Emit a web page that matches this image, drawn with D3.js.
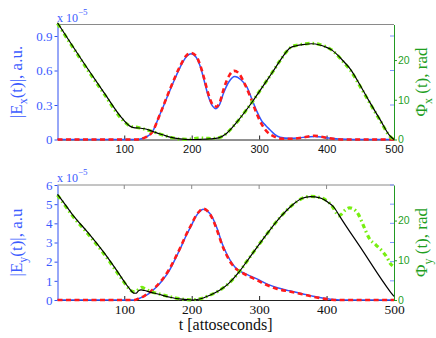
<!DOCTYPE html>
<html><head><meta charset="utf-8">
<script src="https://cdn.jsdelivr.net/npm/d3@7"></script>
<style>body{margin:0;background:#fff}svg{display:block}</style>
</head><body>
<svg id="c" width="436" height="338"></svg>
<script>
// ---------- data ----------
const tTicks = [100, 200, 300, 400, 500];
const exTicks = [0, 0.3, 0.6, 0.9];
const eyTicks = [0, 1, 2, 3, 4, 5, 6];
const phiTicks = [0, 10, 20];

// |E_x(t)| (x 1e-5 a.u.)
const exBlue = [[1,0],[118,0],[124,0.005],[132,0.02],[141,0.06],[153,0.22],[168,0.43],[183,0.63],[192,0.72],[199,0.745],[206,0.72],[213,0.63],[219,0.5],[225,0.37],[231,0.29],[236,0.268],[241,0.3],[247,0.4],[255,0.5],[264,0.548],[273,0.52],[282,0.455],[290,0.34],[297,0.24],[304,0.16],[310,0.12],[316,0.085],[323,0.045],[331,0.02],[345,0.01],[360,0.015],[370,0.022],[382,0.026],[394,0.02],[405,0.01],[420,0.004],[440,0.001],[500,0]];
const exRed = [[1,0],[118,0],[124,0.005],[132,0.02],[141,0.06],[153,0.22],[168,0.44],[183,0.64],[192,0.73],[199,0.752],[206,0.73],[213,0.64],[219,0.52],[225,0.39],[231,0.305],[237,0.285],[242,0.33],[248,0.45],[256,0.56],[263,0.597],[270,0.575],[278,0.49],[287,0.37],[296,0.23],[305,0.12],[313,0.06],[321,0.03],[331,0.008],[350,0.006],[365,0.018],[382,0.032],[396,0.02],[410,0.006],[425,0],[500,0]];
// Phi_x(t), rad
const phixBlack = [[1,29.4],[45,18.0],[70,11.8],[95,5.7],[104,4.0],[109,3.3],[114,3.0],[122,2.9],[130,2.7],[138,2.3],[146,1.8],[157,1.2],[168,0.6],[183,0.15],[198,0],[213,0.05],[227,0.15],[240,0.4],[250,1.3],[260,3.0],[270,5.0],[280,7.2],[290,9.5],[300,12.0],[310,14.5],[320,17.0],[330,19.6],[340,22.0],[346,23.1],[355,23.6],[365,23.9],[378,24.1],[390,23.8],[400,23.2],[408,22.5],[415,21.5],[425,19.7],[435,17.8],[450,13.6],[464,9.4],[480,4.8],[494,0.9],[500,0]];
const phixGreen = [[1,29.2],[45,17.7],[70,11.5],[95,5.4],[104,3.9],[110,3.3],[118,3.1],[126,2.8],[134,2.4],[142,2.0],[150,1.5],[160,1.0],[170,0.5],[183,0.1],[195,0.05],[205,0.25],[213,0.35],[222,0.3],[230,0.25],[240,0.45],[250,1.3],[260,3.0],[270,5.0],[280,7.2],[290,9.5],[300,12.0],[310,14.5],[320,17.0],[330,19.6],[340,22.0],[347,23.2],[355,23.7],[365,24.0],[378,24.2],[390,23.9],[400,23.3],[408,22.5],[415,21.4],[425,19.5],[435,17.5],[450,13.3],[464,9.2],[480,4.6],[494,0.8],[500,0]];

// |E_y(t)| (x 1e-5 a.u.)
const eyBlue = [[1,0],[115,0],[122,0.08],[130,0.2],[137,0.35],[147,0.65],[157,1.04],[167,1.55],[176,2.17],[184,2.75],[191,3.3],[199,3.85],[206,4.35],[212,4.62],[217,4.73],[223,4.65],[230,4.35],[238,3.7],[245,2.96],[252,2.4],[260,1.91],[266,1.65],[273,1.48],[284,1.3],[295,1.13],[314,0.8],[327,0.64],[345,0.48],[364,0.33],[380,0.2],[398,0.08],[410,0.02],[420,0],[500,0]];
const eyRed = [[1,0],[115,0],[122,0.09],[130,0.22],[137,0.38],[147,0.7],[157,1.1],[167,1.62],[176,2.22],[184,2.8],[191,3.35],[199,3.9],[206,4.38],[212,4.65],[217,4.76],[223,4.66],[230,4.3],[238,3.6],[245,2.88],[252,2.32],[260,1.85],[266,1.62],[273,1.46],[284,1.25],[295,1.07],[314,0.74],[327,0.58],[345,0.44],[364,0.3],[380,0.17],[398,0.06],[408,0.01],[415,0],[500,0]];
// Phi_y(t), rad
const phiyBlack = [[1,26.6],[10,24.6],[25,21.1],[45,17.2],[70,11.9],[95,5.9],[103,3.9],[108,2.8],[112,2.0],[115,1.7],[118,1.75],[121,2.3],[125,2.55],[130,2.4],[138,2.0],[150,1.5],[168,0.7],[185,0.2],[200,0],[212,0.25],[227,1.2],[242,2.5],[255,4.2],[270,7.0],[285,10.5],[300,14.0],[315,17.4],[330,20.6],[341,22.6],[352,24.3],[364,25.6],[376,26.0],[390,25.7],[403,24.5],[410,23.5],[414,22.6],[418,21.5],[452,12.8],[494,2.2],[500,0.9]];
const phiyGreen = [[1,26.4],[10,24.3],[25,20.8],[45,16.9],[70,11.6],[95,5.6],[103,3.7],[108,2.7],[113,2.1],[118,2.2],[122,2.8],[126,3.2],[131,2.8],[138,2.2],[150,1.6],[168,0.8],[185,0.25],[200,0.05],[212,0.3],[227,1.2],[242,2.5],[255,4.2],[270,7.0],[285,10.5],[300,14.0],[315,17.4],[330,20.6],[341,22.6],[352,24.3],[364,25.6],[376,26.1],[390,25.8],[403,24.6],[410,23.2],[414,22.0],[418,21.2],[422,21.6],[428,22.7],[434,23.2],[440,22.9],[447,21.6],[455,18.6],[463,15.6],[473,13.9],[483,12.2],[490,10.6],[494,9.3],[498,8.6]];

// ---------- styling ----------
const BLUE_TXT = "#3b5bff", BLUE_AX = "#3050f0", BLUE_LINE = "#2f55ff";
const GREEN_TXT = "#1f9f1f", GREEN_AX = "#229922", GREEN_LINE = "#77ee11";
const RED = "#ff1a1a";
const SERIF = "'Liberation Serif','Times New Roman',serif";
const SANS = "'Liberation Sans',Arial,sans-serif";

const svg = d3.select("#c");
const x = d3.scaleLinear().domain([1, 500]).range([57.5, 394]);

const panels = [
  {top: 24.5, bottom: 139.5, eMax: 1.0, eTicks: exTicks, eFmt: d => d === 0 ? "0" : d3.format(".1f")(d),
   blue: exBlue, red: exRed, black: phixBlack, green: phixGreen, sub: "x", eLabelEnd: ", a.u.",
   xFont: SANS, xSize: 11, xLabY: 153, topTicks: false},
  {top: 185, bottom: 300, eMax: 6, eTicks: eyTicks, eFmt: d3.format("d"),
   blue: eyBlue, red: eyRed, black: phiyBlack, green: phiyGreen, sub: "y", eLabelEnd: ", a.u",
   xFont: SERIF, xSize: 13.5, xLabY: 314, topTicks: true}
];

panels.forEach(p => {
  const yE = d3.scaleLinear().domain([0, p.eMax]).range([p.bottom, p.top]);
  const yP = d3.scaleLinear().domain([0, 28.95]).range([p.bottom, p.top]);
  const g = svg.append("g");
  const [x0, x1] = x.range();

  // frame: top (gray)
  g.append("line").attr("x1", x0).attr("x2", x1).attr("y1", p.top).attr("y2", p.top)
    .attr("stroke", "#8a8a8a").attr("stroke-width", 1);
  if (p.topTicks) {
    tTicks.slice(0, 4).forEach(t => g.append("line").attr("x1", x(t)).attr("x2", x(t))
      .attr("y1", p.top).attr("y2", p.top + 4).attr("stroke", "#8a8a8a"));
  }

  // bottom x axis
  const xa = g.append("g").attr("transform", `translate(0,${p.bottom})`)
    .call(d3.axisBottom(x).tickValues(tTicks).tickSizeInner(-4).tickSizeOuter(0).tickFormat(d3.format("d")));
  xa.select(".domain").attr("stroke", "#222");
  xa.selectAll(".tick line").attr("stroke", "#222");
  xa.selectAll(".tick text").attr("y", null).attr("dy", null)
    .attr("transform", `translate(0,${p.xLabY - p.bottom})`)
    .attr("font-family", p.xFont).attr("font-size", p.xSize).attr("fill", "#111");

  // left axis (blue)
  const la = g.append("g").attr("transform", `translate(${x0},0)`)
    .call(d3.axisLeft(yE).tickValues(p.eTicks).tickSizeInner(3).tickSizeOuter(0).tickPadding(2).tickFormat(p.eFmt));
  la.select(".domain").attr("stroke", BLUE_AX);
  la.selectAll(".tick line").attr("stroke", BLUE_AX);
  la.selectAll(".tick text").attr("font-family", SERIF).attr("font-size", 13).attr("fill", BLUE_TXT);
  // mirrored blue ticks on right edge
  p.eTicks.filter(v => v > 0).forEach(v => g.append("line").attr("x1", x1 - 4).attr("x2", x1)
    .attr("y1", yE(v)).attr("y2", yE(v)).attr("stroke", "#7f95ff"));

  // right axis (green)
  const ra = g.append("g").attr("transform", `translate(${x1},0)`)
    .call(d3.axisRight(yP).tickValues(phiTicks).tickSizeInner(3).tickSizeOuter(0).tickPadding(1).tickFormat(d3.format("d")));
  ra.select(".domain").attr("stroke", GREEN_AX);
  ra.selectAll(".tick line").attr("stroke", GREEN_AX);
  ra.selectAll(".tick text").attr("font-family", SANS).attr("font-size", 10.5).attr("fill", GREEN_TXT);

  // curves
  const lineE = d3.line().x(d => x(d[0])).y(d => yE(d[1])).curve(d3.curveMonotoneX);
  const lineP = d3.line().x(d => x(d[0])).y(d => yP(d[1])).curve(d3.curveMonotoneX);
  g.append("path").attr("d", lineE(p.blue)).attr("fill", "none").attr("stroke", BLUE_LINE).attr("stroke-width", 1.5);
  g.append("path").attr("d", lineE(p.red)).attr("fill", "none").attr("stroke", RED).attr("stroke-width", 2.6)
    .attr("stroke-dasharray", "5,3.5");
  g.append("path").attr("d", lineP(p.green)).attr("fill", "none").attr("stroke", GREEN_LINE).attr("stroke-width", 3.2)
    .attr("stroke-dasharray", "4.5,3,1.5,3");
  g.append("path").attr("d", lineP(p.black)).attr("fill", "none").attr("stroke", "#000").attr("stroke-width", 1.2);

  // multiplier "x 10^-5"
  const m = g.append("text").attr("x", 57).attr("y", p.top - 3).attr("font-family", SERIF)
    .attr("font-size", 12).attr("fill", BLUE_TXT);
  m.append("tspan").text("x 10");
  m.append("tspan").attr("dy", -7).attr("font-size", 9).text("\u22125");

  // left label
  const cy = (p.top + p.bottom) / 2;
  const ll = g.append("text").attr("transform", `translate(22,${cy}) rotate(-90)`).attr("text-anchor", "middle")
    .attr("font-family", SERIF).attr("font-size", 17).attr("fill", BLUE_TXT);
  ll.append("tspan").text("|E");
  ll.append("tspan").attr("dy", 5).attr("font-size", 12).text(p.sub);
  ll.append("tspan").attr("dy", -5).text("(t)|" + p.eLabelEnd);

  // right label
  const rl = g.append("text").attr("transform", `translate(427,${cy}) rotate(-90)`).attr("text-anchor", "middle")
    .attr("font-family", SERIF).attr("font-size", 17).attr("fill", GREEN_TXT);
  rl.append("tspan").text("\u03A6");
  rl.append("tspan").attr("dy", 5).attr("font-size", 12).text(p.sub);
  rl.append("tspan").attr("dy", -5).text(" (t), rad");
});

// x label
svg.append("text").attr("x", 225.7).attr("y", 330).attr("text-anchor", "middle")
  .attr("font-family", SERIF).attr("font-size", 16).attr("fill", "#111").text("t [attoseconds]");
</script>
</body></html>
